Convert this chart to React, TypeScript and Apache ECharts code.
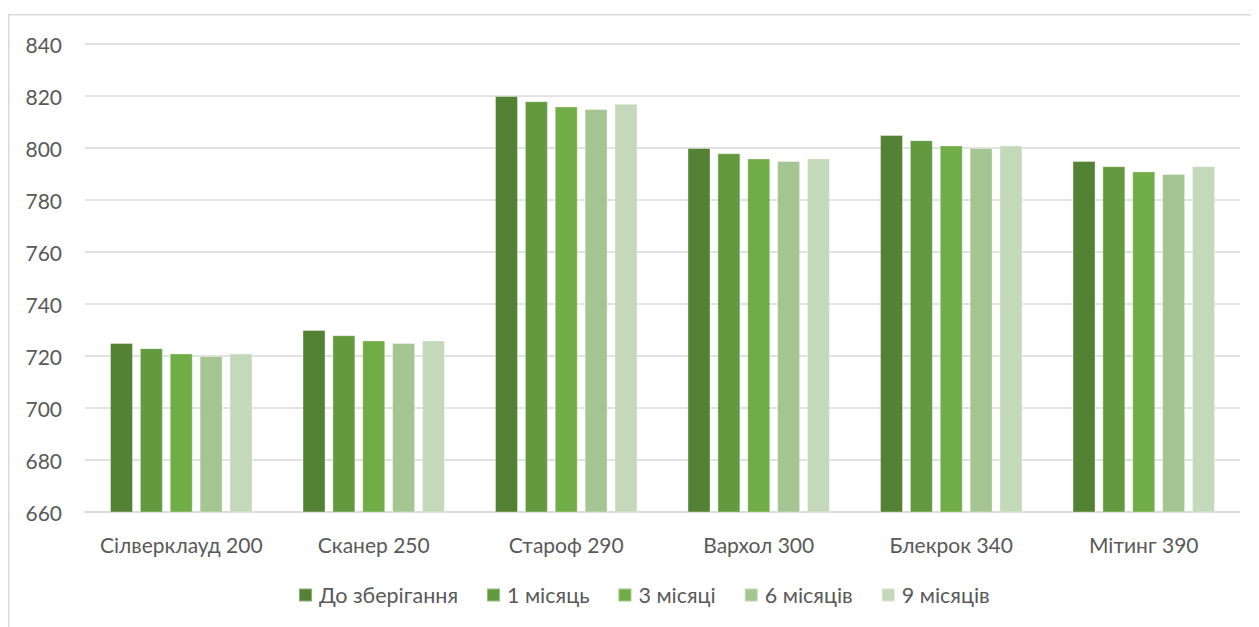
import React, { useEffect, useRef } from "react";
import * as echarts from "echarts";

const categories = ["Сілверклауд 200", "Сканер 250", "Староф 290", "Вархол 300", "Блекрок 340", "Мітинг 390"];
const seriesNames = ["До зберігання", "1 місяць", "3 місяці", "6 місяців", "9 місяців"];
const beforeStorage = [725, 730, 820, 800, 805, 795];
const month1 = [723, 728, 818, 798, 803, 793];
const month3 = [721, 726, 816, 796, 801, 791];
const month6 = [720, 725, 815, 795, 800, 790];
const month9 = [721, 726, 817, 796, 801, 793];
const seriesValues = [beforeStorage, month1, month3, month6, month9];
const colors = ["#548235", "#639A3F", "#70AD47", "#A4C591", "#C4D8BA"];

export default function App() {
  const ref = useRef<HTMLDivElement>(null);
  useEffect(() => {
    if (!ref.current) return;
    const chart = echarts.init(ref.current, null, { renderer: "svg" });
    const font = "Lato, 'Open Sans', sans-serif";
    chart.setOption({
      animation: false,
      color: colors,
      graphic: [
        {
          type: "rect",
          shape: { x: 0.75, y: 6.75, width: 1300, height: 800 },
          style: { fill: "none", stroke: "#d9d9d9", lineWidth: 1.5 },
          silent: true,
        },
      ],
      grid: { left: 77, right: 19, top: 36, bottom: 115, containLabel: false },
      xAxis: {
        type: "category",
        data: categories,
        axisLine: { show: true, lineStyle: { color: "#d9d9d9", width: 1.5 } },
        axisTick: { show: false },
        axisLabel: { color: "#595959", fontSize: 21, fontFamily: font, margin: 22, interval: 0 },
      },
      yAxis: {
        type: "value",
        min: 660,
        max: 840,
        interval: 20,
        axisLine: { show: false },
        axisTick: { show: false },
        splitLine: { lineStyle: { color: "#d9d9d9", width: 1.5 } },
        axisLabel: { color: "#595959", fontSize: 21, fontFamily: font, margin: 23 },
      },
      legend: {
        data: seriesNames,
        bottom: 16,
        left: 285,
        itemWidth: 13,
        itemHeight: 13,
        itemGap: 28,
        icon: "rect",
        textStyle: { color: "#595959", fontSize: 21.5, fontFamily: font, padding: [0, 0, 0, 2] },
      },
      series: seriesNames.map((name, i) => ({
        name,
        type: "bar",
        data: seriesValues[i],
        barGap: "30%",
        barCategoryGap: "26%",
        itemStyle: { color: colors[i], borderColor: "rgba(255,255,255,0.35)", borderWidth: 1 },
      })),
    });
    return () => chart.dispose();
  }, []);
  return <div ref={ref} style={{ width: 1251, height: 619 }} />;
}
